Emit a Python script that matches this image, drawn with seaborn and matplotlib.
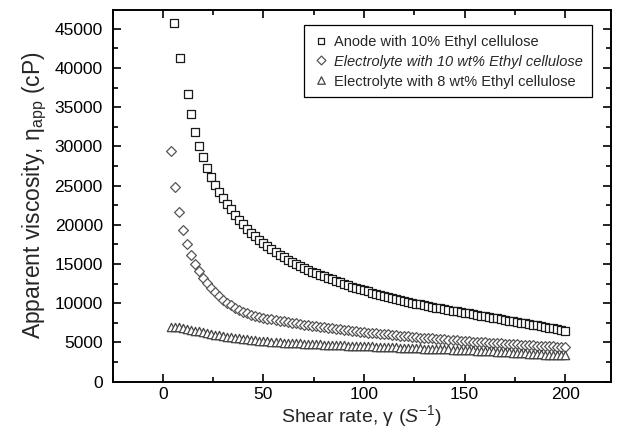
import matplotlib
matplotlib.use("Agg")
import matplotlib.pyplot as plt
import seaborn as sns
import pandas as pd
from matplotlib.ticker import MultipleLocator


# data
shear_anode = [5.5, 8.3, 12.5, 14, 16, 18, 20, 22, 24, 26, 28, 30, 32, 34, 36, 38,
               40, 42, 44, 46, 48, 50, 52, 54, 56, 58, 60, 62, 64, 66, 68, 70,
               72, 74, 76, 78, 80, 82, 84, 86, 88, 90, 92, 94, 96, 98, 100,
               102, 104, 106, 108, 110, 112, 114, 116, 118, 120, 122, 124, 126,
               128, 130, 132, 134, 136, 138, 140, 142, 144, 146, 148, 150, 152,
               154, 156, 158, 160, 162, 164, 166, 168, 170, 172, 174, 176, 178,
               180, 182, 184, 186, 188, 190, 192, 194, 196, 198, 200]
visc_anode = [45800, 41300, 36700, 34100, 31900, 30100, 28600, 27300, 26100, 25100,
              24200, 23400, 22650, 21950, 21300, 20650, 20050, 19500, 19000, 18520,
              18070, 17650, 17250, 16870, 16510, 16170, 15850, 15540, 15250, 14970,
              14710, 14470, 14240, 14020, 13810, 13610, 13410, 13220, 13040, 12860,
              12690, 12450, 12280, 12110, 11950, 11790, 11640, 11490, 11340, 11200,
              11060, 10920, 10790, 10660, 10530, 10410, 10290, 10170, 10050, 9940,
              9830, 9720, 9620, 9520, 9420, 9320, 9220, 9130, 9040, 8950, 8860,
              8770, 8680, 8590, 8500, 8410, 8320, 8230, 8140, 8050, 7960, 7870,
              7780, 7690, 7600, 7510, 7420, 7330, 7240, 7150, 7060, 6970, 6880,
              6790, 6700, 6600, 6450]

shear_elec = [4, 6, 8, 10, 12, 14, 16, 18, 20, 22, 24, 26, 28, 30, 32, 34, 36, 38,
              40, 42, 44, 46, 48, 50, 52, 54, 56, 58, 60, 62, 64, 66, 68, 70,
              72, 74, 76, 78, 80, 82, 84, 86, 88, 90, 92, 94, 96, 98, 100,
              102, 104, 106, 108, 110, 112, 114, 116, 118, 120, 122, 124, 126,
              128, 130, 132, 134, 136, 138, 140, 142, 144, 146, 148, 150, 152,
              154, 156, 158, 160, 162, 164, 166, 168, 170, 172, 174, 176, 178,
              180, 182, 184, 186, 188, 190, 192, 194, 196, 198, 200]
visc_elec10 = [29400, 24800, 21600, 19300, 17500, 16100, 15000, 14050, 13250, 12550,
               11950, 11400, 10900, 10450, 10050, 9700, 9400, 9130, 8900, 8700,
               8520, 8360, 8230, 8120, 8020, 7930, 7840, 7750, 7670, 7590, 7510,
               7430, 7350, 7270, 7200, 7130, 7060, 6990, 6920, 6850, 6780, 6720,
               6660, 6600, 6540, 6480, 6420, 6360, 6300, 6250, 6200, 6150, 6100,
               6050, 6000, 5950, 5900, 5850, 5800, 5750, 5700, 5650, 5610, 5570,
               5530, 5490, 5450, 5410, 5370, 5330, 5290, 5250, 5210, 5170, 5130,
               5090, 5050, 5010, 4980, 4950, 4920, 4890, 4860, 4830, 4800, 4770,
               4740, 4710, 4680, 4650, 4620, 4590, 4560, 4530, 4500, 4470, 4440,
               4410, 4380]
visc_elec8 = [6950, 6980, 6900, 6820, 6720, 6610, 6500, 6390, 6280, 6170, 6070,
              5970, 5880, 5790, 5710, 5630, 5560, 5490, 5430, 5370, 5310, 5260,
              5210, 5160, 5120, 5080, 5040, 5000, 4970, 4940, 4910, 4880, 4850,
              4820, 4790, 4770, 4750, 4730, 4710, 4690, 4670, 4650, 4630, 4610,
              4590, 4570, 4550, 4530, 4510, 4490, 4470, 4450, 4430, 4410, 4390,
              4370, 4350, 4330, 4310, 4290, 4270, 4250, 4230, 4210, 4190, 4170,
              4150, 4130, 4110, 4090, 4070, 4050, 4030, 4010, 3990, 3970, 3950,
              3920, 3890, 3860, 3830, 3800, 3770, 3740, 3710, 3680, 3650, 3620,
              3590, 3560, 3530, 3500, 3470, 3440, 3420, 3400, 3380, 3360, 3340]

labels = ["Anode with 10% Ethyl cellulose",
          "Electrolyte with 10 wt% Ethyl cellulose",
          "Electrolyte with 8 wt% Ethyl cellulose"]
x_ticks = [0, 50, 100, 150, 200]
y_ticks = [0, 5000, 10000, 15000, 20000, 25000, 30000, 35000, 40000, 45000]


sns.set_style("ticks")
plt.rcParams["font.family"] = ["Liberation Sans", "DejaVu Sans"]
plt.rcParams["mathtext.fontset"] = "custom"
plt.rcParams["mathtext.rm"] = "Liberation Sans"
plt.rcParams["mathtext.it"] = "Liberation Sans:italic"

fig = plt.figure(figsize=(6.22, 4.37), dpi=100)
ax = fig.add_axes([0.181, 0.127, 0.802, 0.850])

series = [
    (shear_anode, visc_anode, "s", 5.5, "#1a1a1a"),
    (shear_elec, visc_elec10, "D", 5.0, "#555555"),
    (shear_elec, visc_elec8, "^", 6.0, "#444444"),
]
for (xs, ys, mk, ms, col), lab in zip(series, labels):
    df = pd.DataFrame({"shear": xs, "visc": ys})
    sns.scatterplot(data=df, x="shear", y="visc", marker=mk, s=ms ** 2,
                    facecolor="white", edgecolor=col, linewidth=0.9,
                    label=lab, ax=ax, zorder=3)

ax.set_xlim(-25, 223)
ax.set_ylim(0, 47400)
ax.set_xticks(x_ticks)
ax.set_yticks(y_ticks)
ax.xaxis.set_minor_locator(MultipleLocator(25))
ax.yaxis.set_minor_locator(MultipleLocator(2500))
ax.tick_params(which="both", direction="in", top=True, right=True,
               width=1.2, labelsize=12.5, colors="black")
ax.tick_params(which="major", length=6)
ax.tick_params(which="minor", length=3.5)
ax.tick_params(axis="y", which="major", pad=7)
ax.tick_params(axis="x", which="major", pad=4)
for sp in ax.spines.values():
    sp.set_linewidth(1.4)
    sp.set_color("black")

ax.set_xlabel(r"Shear rate, γ ($S^{-1}$)", fontsize=14, labelpad=1)
ax.set_ylabel(r"Apparent viscosity, η$_{\mathrm{app}}$ (cP)", fontsize=16.5, labelpad=4)

leg = ax.legend(loc="upper right", bbox_to_anchor=(0.9605, 0.9597), borderaxespad=0,
                fontsize=10.5, frameon=True, fancybox=False, edgecolor="black",
                framealpha=1, handletextpad=0.27, borderpad=0.6, labelspacing=0.3,
                handlelength=1.2, handleheight=1.2, markerscale=0.9)
leg.get_frame().set_linewidth(0.9)
leg.get_texts()[1].set_fontstyle("italic")

fig.savefig("out.png", dpi=100)
